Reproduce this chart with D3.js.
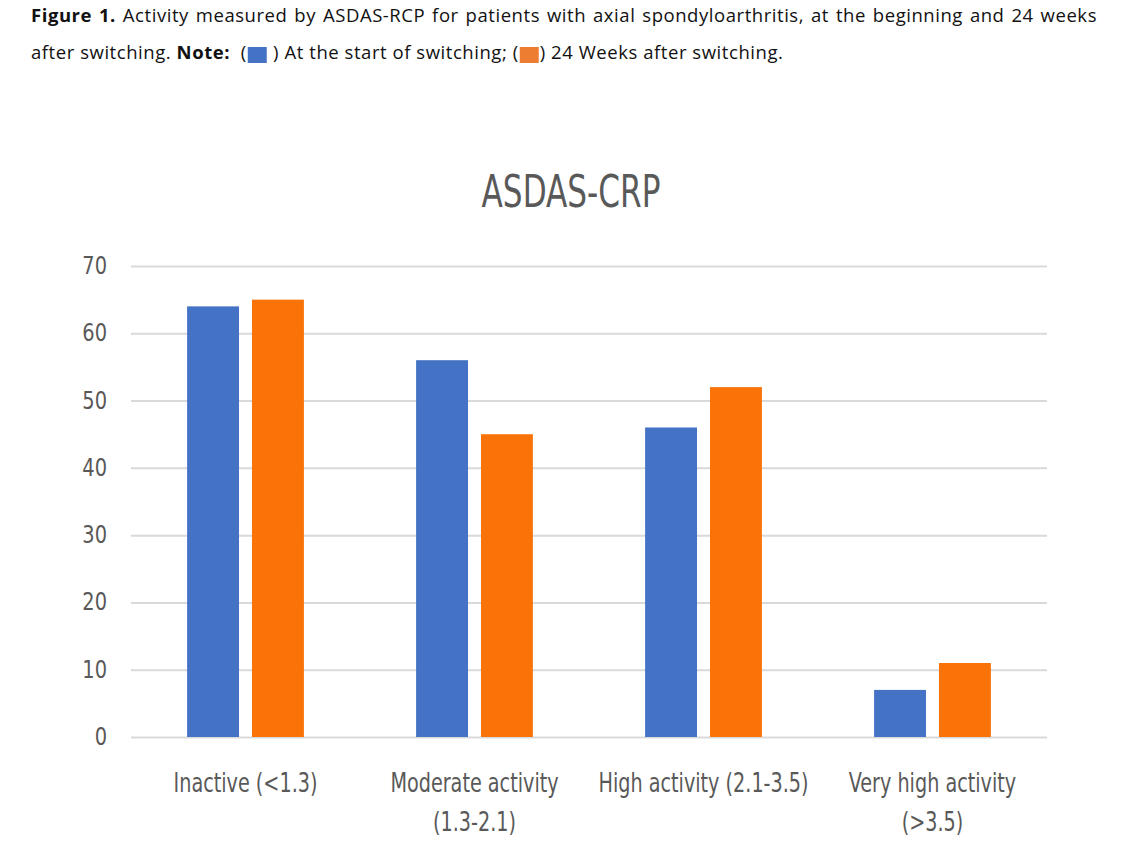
<!DOCTYPE html>
<html><head><meta charset="utf-8">
<script src="https://cdn.jsdelivr.net/npm/d3@7"></script>
<style>body{margin:0;background:#fff}</style></head><body>
<svg id="c" width="1121" height="867"></svg>
<script>
const categories = ["Inactive (<1.3)", "Moderate activity (1.3-2.1)", "High activity (2.1-3.5)", "Very high activity (>3.5)"];
const categoryLines = [["Inactive (<1.3)"], ["Moderate activity", "(1.3-2.1)"], ["High activity (2.1-3.5)"], ["Very high activity", "(>3.5)"]];
const seriesNames = ["At the start of switching", "24 Weeks after switching"];
const startValues = [64, 56, 46, 7];
const week24Values = [65, 45, 52, 11];
const yTicks = [0, 10, 20, 30, 40, 50, 60, 70];
const chartTitle = "ASDAS-CRP";
const captionBold = "Figure 1.";
const captionLine1 = " Activity measured by ASDAS-RCP for patients with axial spondyloarthritis, at the beginning and 24 weeks";
const colors = ["#4472C4", "#FA7309"];
const swatchColors = ["#4472C4", "#ED7D31"];

const svg = d3.select("#c");
const chartFont = "'Liberation Sans Narrow','DejaVu Sans Condensed',sans-serif";
const capFont = "'Open Sans','Liberation Sans',Arial,sans-serif";
const capSize = "18.5px", capSpacing = "0.55px";
const pLeft = 131, pRight = 1047, pTop = 266, pBottom = 737;

// caption line 1 (justified)
const cap1 = svg.append("text").attr("x", 31).attr("y", 22)
  .style("font-family", capFont).style("font-size", capSize).style("letter-spacing", capSpacing).attr("fill", "#111");
cap1.append("tspan").attr("font-weight", "bold").text(captionBold);
cap1.append("tspan").text(captionLine1);
const natural = cap1.node().getComputedTextLength();
const spaces = (captionBold + captionLine1).split(" ").length - 1;
cap1.style("word-spacing", Math.max(0, (1097 - 31 - natural) / spaces) + "px");

// caption line 2 with swatches
const pieces = [
  {t: "after switching. "}, {t: "Note:", b: true}, {t: "  ("}, {s: 0}, {t: " ) At the start of switching; ("}, {s: 1}, {t: ") 24 Weeks after switching."}
];
let cx = 31;
const y2 = 59;
pieces.forEach(p => {
  if (p.s !== undefined) {
    svg.append("rect").attr("x", cx + 1).attr("y", y2 - 12).attr("width", 19).attr("height", 16).attr("fill", swatchColors[p.s]);
    cx += 21;
  } else {
    const t = svg.append("text").attr("x", cx).attr("y", y2).attr("xml:space", "preserve")
      .style("white-space", "pre")
      .style("font-family", capFont).style("font-size", capSize).style("letter-spacing", capSpacing).attr("fill", "#111")
      .attr("font-weight", p.b ? "bold" : null).text(p.t);
    cx += t.node().getComputedTextLength();
  }
});

// scales
const x0 = d3.scaleBand().domain(categories).range([pLeft, pRight]).paddingInner(0.49).paddingOuter(0.245);
const x1 = d3.scaleBand().domain(seriesNames).range([0, x0.bandwidth()]).paddingInner(0.2);
const y = d3.scaleLinear().domain([0, 70]).range([pBottom, pTop]);

// y axis with gridlines
const ya = svg.append("g").attr("transform", `translate(${pLeft},0)`)
  .call(d3.axisLeft(y).tickValues(yTicks).tickSizeInner(-(pRight - pLeft)).tickSizeOuter(0).tickPadding(24));
ya.select(".domain").remove();
ya.selectAll(".tick line").attr("stroke", "#d9d9d9").attr("stroke-width", 2);
ya.selectAll(".tick text").attr("fill", "#595959").style("font-family", chartFont).style("font-size", "24px")
  .attr("x", -24 / 0.9).attr("transform", "scale(0.9,1.05)").attr("dy", "0.3em");

// bars
const data = categories.map((c, i) => ({c, vals: [startValues[i], week24Values[i]]}));
const groups = svg.append("g").selectAll("g").data(data).join("g")
  .attr("transform", d => `translate(${x0(d.c)},0)`);
groups.selectAll("rect").data(d => d.vals.map((v, k) => ({k, v}))).join("rect")
  .attr("x", d => x1(seriesNames[d.k]))
  .attr("width", x1.bandwidth())
  .attr("y", d => y(d.v))
  .attr("height", d => y(0) - y(d.v))
  .attr("fill", d => colors[d.k]);

// x axis labels
const sx = 0.89, sy = 1.08;
const xa = svg.append("g").attr("transform", `translate(0,${pBottom})`)
  .call(d3.axisBottom(x0).tickSize(0).tickPadding(0));
xa.select(".domain").remove();
xa.selectAll(".tick text").each(function(d, i) {
  const t = d3.select(this).text(null).attr("y", 0).attr("dy", null)
    .attr("transform", `scale(${sx},${sy})`)
    .attr("fill", "#595959").style("font-family", chartFont).style("font-size", "24px");
  categoryLines[i].forEach((ln, j) => {
    t.append("tspan").attr("x", 0).attr("y", (55 + j * 39) / sy).text(ln);
  });
});

// title
svg.append("text").attr("transform", "translate(571,207) scale(0.865,1.1)").attr("text-anchor", "middle")
  .attr("fill", "#595959").style("font-family", chartFont).style("font-size", "40px").text(chartTitle);
</script>
</body></html>
